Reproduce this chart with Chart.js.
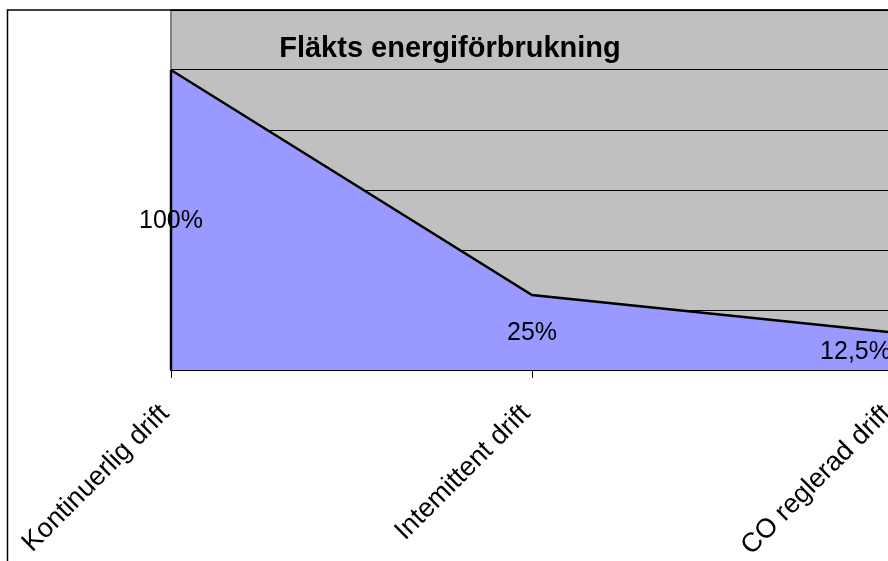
<!DOCTYPE html>
<html>
<head>
<meta charset="utf-8">
<script src="https://cdn.jsdelivr.net/npm/chart.js@4/dist/chart.umd.min.js"></script>
<style>
  html, body { margin: 0; padding: 0; background: #fff; overflow: hidden; }
  #chart { display: block; }
</style>
</head>
<body>
<canvas id="chart" width="900" height="561"></canvas>
<script>
const categories = ['Kontinuerlig drift', 'Intemittent drift', 'CO reglerad drift'];
const values = [100, 25, 12.5];
const chartTitle = 'Fläkts energiförbrukning';
const yMin = 0;
const yMax = 120;
const yStep = 20;

const FONT = 'Liberation Sans, Arial, sans-serif';
Chart.defaults.font.family = FONT;
Chart.defaults.color = '#000';

// plot background, frame, title, value labels
const excelLook = {
  id: 'excelLook',
  beforeDraw(chart) {
    const { ctx, chartArea: a } = chart;
    ctx.save();
    ctx.fillStyle = '#C0C0C0';
    ctx.fillRect(a.left, a.top, a.right - a.left, a.bottom - a.top);
    ctx.strokeStyle = '#808080';
    ctx.lineWidth = 2;
    ctx.strokeRect(a.left, a.top, a.right - a.left, a.bottom - a.top);
    // outer chart frame
    ctx.strokeStyle = '#000';
    ctx.lineWidth = 1.5;
    ctx.beginPath();
    ctx.moveTo(7.5, chart.height);
    ctx.lineTo(7.5, a.top);
    ctx.lineTo(chart.width, a.top);
    ctx.stroke();
    ctx.restore();
  },
  afterDatasetsDraw(chart) {
    const { ctx, chartArea: a } = chart;
    const xs = chart.scales.x, ys = chart.scales.y;
    ctx.save();
    // left edge of the area
    ctx.strokeStyle = '#000';
    ctx.lineWidth = 2.5;
    ctx.beginPath();
    ctx.moveTo(xs.getPixelForValue(0), ys.getPixelForValue(values[0]));
    ctx.lineTo(xs.getPixelForValue(0), ys.getPixelForValue(0));
    ctx.stroke();

    ctx.font = '25px ' + FONT;
    ctx.fillStyle = '#000';
    ctx.textAlign = 'center';
    ctx.textBaseline = 'middle';
    values.forEach((v, i) => {
      const txt = String(v).replace('.', ',') + '%';
      const w = ctx.measureText(txt).width;
      let x = xs.getPixelForValue(i);
      if (x + w / 2 > a.right - 2) x = a.right - 2 - w / 2;
      ctx.fillText(txt, x, ys.getPixelForValue(v / 2) + 1);
    });

    ctx.font = 'bold 29px ' + FONT;
    ctx.textBaseline = 'alphabetic';
    ctx.fillText(chartTitle, (7 + a.right) / 2, 57);
    ctx.restore();
  }
};

new Chart(document.getElementById('chart'), {
  type: 'line',
  data: {
    labels: categories,
    datasets: [{
      data: values,
      fill: 'origin',
      backgroundColor: '#9999FF',
      borderColor: '#000',
      borderWidth: 2.5,
      pointRadius: 0,
      tension: 0
    }]
  },
  options: {
    responsive: false,
    animation: false,
    layout: { padding: { left: 171, top: 10, right: 7, bottom: 0 } },
    plugins: {
      legend: { display: false },
      title: { display: false },
      tooltip: { enabled: false }
    },
    scales: {
      x: {
        offset: false,
        grid: { drawOnChartArea: false, drawTicks: true, tickLength: 8, color: '#000', lineWidth: 1 },
        border: { display: true, color: '#000', width: 2 },
        ticks: { minRotation: 45, maxRotation: 45, padding: 20, labelOffset: -6, font: { size: 27 }, color: '#000', autoSkip: false },
        afterFit(s) { s.height = 191; s.paddingLeft = 0; s.paddingRight = 0; }
      },
      y: {
        min: yMin,
        max: yMax,
        ticks: { display: false, stepSize: yStep },
        grid: { color: '#000', lineWidth: 1, drawTicks: false },
        border: { display: false },
        afterFit(s) { s.width = 0; }
      }
    }
  },
  plugins: [excelLook]
});
</script>
</body>
</html>
